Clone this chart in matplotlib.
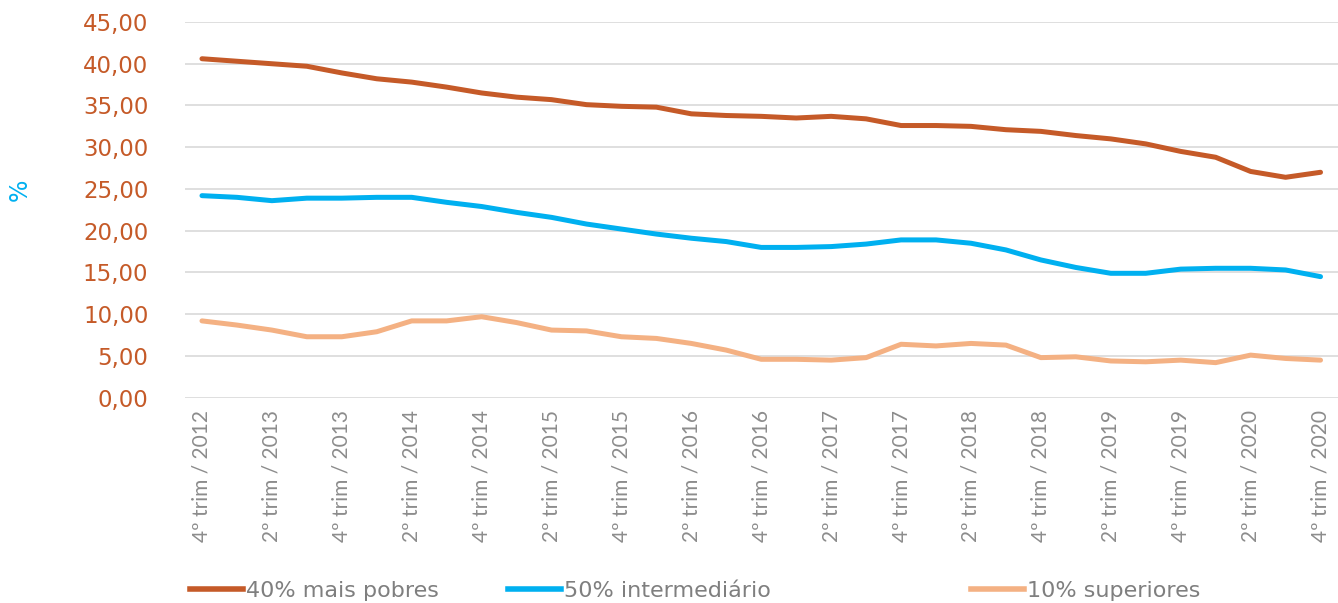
import matplotlib
matplotlib.use('Agg')
import matplotlib.pyplot as plt
from matplotlib.lines import Line2D

# trimestres de 4º trim/2012 até 4º trim/2020
trimestres = []
for ano in range(2012, 2021):
    for t in range(1, 5):
        if ano == 2012 and t < 4:
            continue
        trimestres.append('%dº trim / %d' % (t, ano))

pobres_40 = [40.6, 40.3, 40.0, 39.7, 38.9, 38.2, 37.8, 37.2, 36.5, 36.0,
             35.7, 35.1, 34.9, 34.8, 34.0, 33.8, 33.7, 33.5, 33.7, 33.4,
             32.6, 32.6, 32.5, 32.1, 31.9, 31.4, 31.0, 30.4, 29.5, 28.8,
             27.1, 26.4, 27.0]
intermediario_50 = [24.2, 24.0, 23.6, 23.9, 23.9, 24.0, 24.0, 23.4, 22.9, 22.2,
                    21.6, 20.8, 20.2, 19.6, 19.1, 18.7, 18.0, 18.0, 18.1, 18.4,
                    18.9, 18.9, 18.5, 17.7, 16.5, 15.6, 14.9, 14.9, 15.4, 15.5,
                    15.5, 15.3, 14.5]
superiores_10 = [9.2, 8.7, 8.1, 7.3, 7.3, 7.9, 9.2, 9.2, 9.7, 9.0,
                 8.1, 8.0, 7.3, 7.1, 6.5, 5.7, 4.6, 4.6, 4.5, 4.8,
                 6.4, 6.2, 6.5, 6.3, 4.8, 4.9, 4.4, 4.3, 4.5, 4.2,
                 5.1, 4.7, 4.5]

series = [('40% mais pobres', pobres_40, '#c55a28'),
          ('50% intermediário', intermediario_50, '#00b0f0'),
          ('10% superiores', superiores_10, '#f4b183')]

y_ticks = list(range(0, 46, 5))

fig = plt.figure(figsize=(13.38, 6.03), dpi=100)
ax = fig.add_axes([184.5 / 1338, 1 - 397.7 / 603, 1 - 184.5 / 1338, (397.7 - 22) / 603])

x = list(range(len(trimestres)))
handles = []
for nome, valores, cor in series:
    ln, = ax.plot(x, valores, color=cor, lw=3.6, solid_capstyle='round', label=nome)
    handles.append(ln)

ax.set_xlim(-0.5, len(trimestres) - 0.5)
ax.set_ylim(0, 45)
ax.set_yticks(y_ticks)
ax.set_yticklabels(['%d,00' % v for v in y_ticks])
ax.grid(axis='y', color='#dcdcdc', lw=1.3)
ax.set_axisbelow(True)
for s in ax.spines.values():
    s.set_visible(False)

ax.set_xticks(x[::2])
ax.set_xticklabels(trimestres[::2], rotation=90, fontsize=15, color='#8c8c8c',
                   family='Lato')
ax.tick_params(axis='x', length=0, pad=9)
ax.tick_params(axis='y', length=0, pad=26, labelsize=16.5, labelcolor='#c55a28')

fig.text(20 / 1338, 1 - 190 / 603, '%', rotation=90, color='#00b0f0', fontsize=17,
         ha='center', va='center')

# legenda em três blocos, como no original
pos_legenda = [190, 508, 971]
for h, px in zip(handles, pos_legenda):
    lh = Line2D([], [], color=h.get_color(), lw=4)
    fig.legend([lh], [h.get_label()], loc='center left',
               bbox_to_anchor=(px / 1338, 1 - 591 / 603), frameon=False,
               handlelength=2.4, handletextpad=0.1, borderpad=0, borderaxespad=0,
               prop={'size': 16}, labelcolor='#7f7f7f')

fig.savefig('out.png', dpi=100, facecolor='white')
